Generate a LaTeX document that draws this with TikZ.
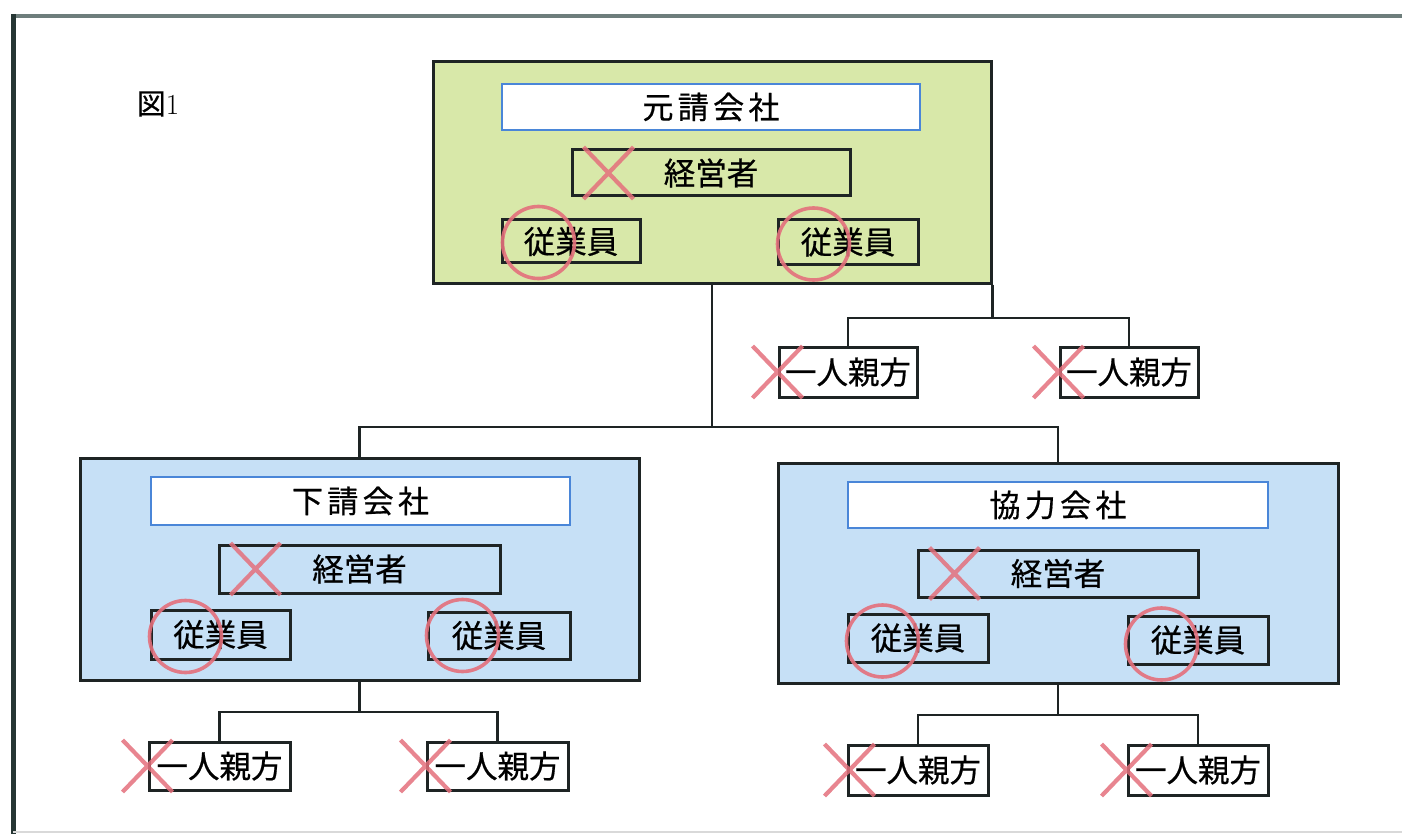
\documentclass[tikz,border=0pt]{standalone}
\usepackage{fontspec}
\newfontfamily\cjk[FakeBold=0.6]{Noto Sans CJK JP}
\newfontfamily\cjkwide[LetterSpace=14,FakeBold=0.6]{Noto Sans CJK JP}
\definecolor{greenfill}{HTML}{D8E8A9}
\definecolor{bluefill}{HTML}{C6E0F6}
\definecolor{titleblue}{HTML}{4A86D8}
\definecolor{markred}{HTML}{E4707C}
\definecolor{framegray}{HTML}{6E7E7C}
\definecolor{framedark}{HTML}{263634}
\definecolor{linedark}{HTML}{1E2424}
\tikzset{
  company/.style={draw=linedark, line width=3pt, inner sep=0pt},
  titlebox/.style={draw=titleblue, line width=2.2pt, fill=white, inner sep=0pt,
    font=\fontsize{31}{35}\cjkwide},
  pbox/.style={draw=linedark, line width=3pt, inner sep=0pt,
    font=\fontsize{31.5}{35}\cjk},
  conn/.style={draw=linedark, line width=2.4pt},
  xm/.style={draw=markred, line width=4.2pt, opacity=0.85},
  okm/.style={draw=markred, line width=3.6pt, opacity=0.9},
  xcross/.pic={\draw[xm] (-25,-26) -- (25,26) (-25,26) -- (25,-26);},
  okcircle/.pic={\draw[okm] (0,0) circle[radius=36pt];}
}
\begin{document}
\begin{tikzpicture}[x=1pt,y=-1pt]
\useasboundingbox (0,0) rectangle (1402,834);
% frame
\draw[framegray, line width=4pt] (11,16) -- (1402,16);
\draw[framedark, line width=5pt] (13,14) -- (13,834);
\draw[black!15, line width=1.5pt] (13,832) -- (1402,832);
\node[font=\fontsize{29}{32}\selectfont, anchor=center] (fig) at (158,104) {{\cjk 図}1};

% top company
\node[company, fill=greenfill, minimum width=558pt, minimum height=221pt] (G) at (712,172.5) {};
\node[titlebox, minimum width=418pt, minimum height=46pt] (GT) at (711,107) {元請会社};
\node[pbox, minimum width=278pt, minimum height=46pt] (GM) at (711,173) {経営者};
\node[pbox, minimum width=138pt, minimum height=43pt] (GE1) at (571,241.5) {従業員};
\node[pbox, minimum width=140pt, minimum height=45pt] (GE2) at (848,242) {従業員};
\node[pbox, fill=white, minimum width=138pt, minimum height=50pt] (GP1) at (848,372) {一人親方};
\node[pbox, fill=white, minimum width=138pt, minimum height=50pt] (GP2) at (1129,372) {一人親方};

% left company
\node[company, fill=bluefill, minimum width=559pt, minimum height=222pt] (L) at (359.5,569) {};
\node[titlebox, minimum width=419pt, minimum height=48pt] (LT) at (360.5,501) {下請会社};
\node[pbox, minimum width=281pt, minimum height=48pt] (LM) at (359.5,569) {経営者};
\node[pbox, minimum width=139pt, minimum height=49pt] (LE1) at (220.5,634.5) {従業員};
\node[pbox, minimum width=142pt, minimum height=47pt] (LE2) at (499,635.5) {従業員};
\node[pbox, fill=white, minimum width=141pt, minimum height=48pt] (LP1) at (219.5,766) {一人親方};
\node[pbox, fill=white, minimum width=141pt, minimum height=48pt] (LP2) at (497.5,766) {一人親方};

% right company
\node[company, fill=bluefill, minimum width=560pt, minimum height=220pt] (R) at (1058,573) {};
\node[titlebox, minimum width=420pt, minimum height=46pt] (RT) at (1058,505) {協力会社};
\node[pbox, minimum width=280pt, minimum height=47pt] (RM) at (1058,573.5) {経営者};
\node[pbox, minimum width=140pt, minimum height=48pt] (RE1) at (918,638) {従業員};
\node[pbox, minimum width=140pt, minimum height=48pt] (RE2) at (1198,640) {従業員};
\node[pbox, fill=white, minimum width=140pt, minimum height=50pt] (RP1) at (918,770) {一人親方};
\node[pbox, fill=white, minimum width=140pt, minimum height=50pt] (RP2) at (1198,770) {一人親方};

% connectors
\draw[conn] (G.south) -- (G.south |- 0,427);
\draw[conn] (L.north) -- (L.north |- 0,427) -- (R.north |- 0,427) -- (R.north);
\draw[conn] (G.south east) -- (G.south east |- 0,318);
\draw[conn] (GP1.north) -- (GP1.north |- 0,318) -- (GP2.north |- 0,318) -- (GP2.north);
\draw[conn] (L.south) -- (L.south |- 0,712);
\draw[conn] (LP1.north) -- (LP1.north |- 0,712) -- (LP2.north |- 0,712) -- (LP2.north);
\draw[conn] (R.south) -- (R.south |- 0,715);
\draw[conn] (RP1.north) -- (RP1.north |- 0,715) -- (RP2.north |- 0,715) -- (RP2.north);

% marks
\pic at ([xshift=38pt]GM.west) {xcross};
\pic at ([xshift=38pt]LM.west) {xcross};
\pic at ([xshift=38pt]RM.west) {xcross};
\pic at (GP1.west) {xcross};
\pic at (GP2.west) {xcross};
\pic at (LP1.west) {xcross};
\pic at (LP2.west) {xcross};
\pic at ([xshift=3pt]RP1.west) {xcross};
\pic at (RP2.west) {xcross};
\pic at ([xshift=38pt,yshift=-1pt]GE1.west) {okcircle};
\pic at ([xshift=37pt,yshift=-2pt]GE2.west) {okcircle};
\pic at ([xshift=36pt,yshift=-2pt]LE1.west) {okcircle};
\pic at ([xshift=36pt]LE2.west) {okcircle};
\pic at ([xshift=36pt,yshift=-3pt]RE1.west) {okcircle};
\pic at ([xshift=35pt,yshift=-4pt]RE2.west) {okcircle};
\end{tikzpicture}
\end{document}
